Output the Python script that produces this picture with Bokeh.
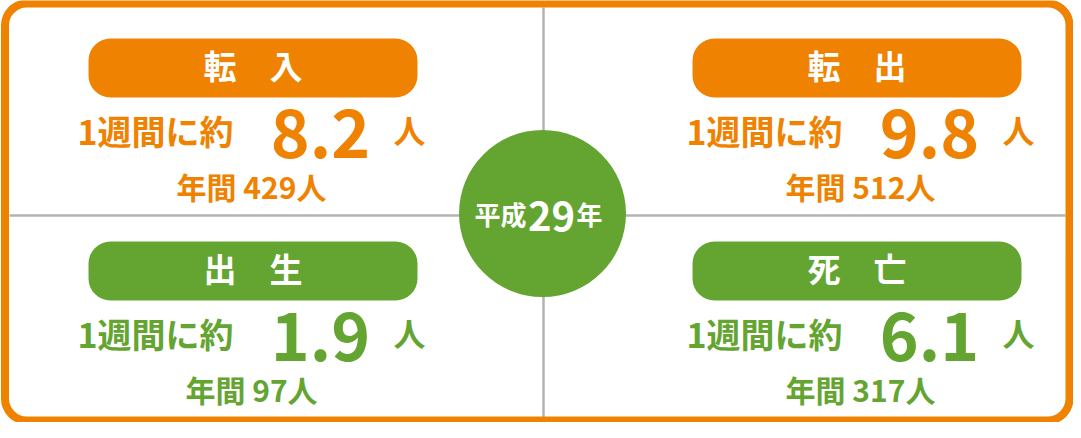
from bokeh.plotting import figure
from bokeh.models import ColumnDataSource, Range1d
from bokeh.core.properties import value
from bokeh.embed import file_html
from bokeh.resources import INLINE

# ---- data ----
labels = ["転　入", "転　出", "出　生", "死　亡"]
weekly = [8.2, 9.8, 1.9, 6.1]
yearly = [429, 512, 97, 317]
year_label = "平成"
year_num = "29"
year_suffix = "年"
weekly_prefix = "1週間に約"
unit = "人"
yearly_prefix = "年間"

# ---- styles ----
ORANGE = "#EF8200"
GREEN = "#64A532"
GRAY = "#B3B3B3"
FONT = value("Noto Sans CJK JP")
quad_colors = [ORANGE, ORANGE, GREEN, GREEN]

W, H = 1073, 422
p = figure(width=W, height=H, output_backend="svg", toolbar_location=None,
           x_range=Range1d(8, 8 + W), y_range=Range1d(-(8 + H), -8),
           x_axis_location=None, y_axis_location=None, min_border=0,
           background_fill_color="white", border_fill_color="white",
           outline_line_color=None)
p.xgrid.visible = False
p.ygrid.visible = False

def Y(v):
    return -v

pill_dx = [0, 604, 0, 604]
text_dx = [0, 609, 0, 609]
row_dy = [0, 0, 203, 203]

# dividers
p.segment(x0=[551, 17], y0=[Y(15), Y(223)], x1=[551, 1073], y1=[Y(426), Y(223)],
          line_color=GRAY, line_width=2.5)

# outer rounded frame
p.quad(left=[12.5], right=[1077], top=[Y(11)], bottom=[Y(428)],
       fill_color=None, line_color=ORANGE, line_width=8, border_radius=22)

# label pills
pill = ColumnDataSource(dict(
    l=[96 + dx for dx in pill_dx], r=[425 + dx for dx in pill_dx],
    t=[Y(46 + dy) for dy in row_dy], b=[Y(105 + dy) for dy in row_dy],
    c=quad_colors, label=labels,
    cx=[260.5 + dx for dx in pill_dx], cy=[Y(72 + dy) for dy in row_dy],
))
p.quad(left="l", right="r", top="t", bottom="b", fill_color="c", line_color=None,
       border_radius=22, source=pill)
p.text(x="cx", y="cy", text="label", text_color="white", text_font=FONT,
       text_font_style="bold", text_font_size="33px", text_align="center",
       text_baseline="middle", source=pill)

# weekly / yearly figures
wk = ColumnDataSource(dict(
    px=[241 + dx for dx in text_dx], py=[Y(138 + dy) for dy in row_dy],
    prefix=[weekly_prefix] * 4,
    nx=[328 + dx for dx in text_dx], ny=[Y(141 + dy) for dy in row_dy],
    num=["%.1f" % v for v in weekly],
    ux=[401 + dx for dx in text_dx], uy=[Y(136 + dy) for dy in row_dy],
    unit=[unit] * 4,
    yx=[259 + dx for dx in text_dx], yy=[Y(193 + dy) for dy in row_dy],
    yr=["%s %d%s" % (yearly_prefix, v, unit) for v in yearly],
    c=quad_colors,
))
p.text(x="px", y="py", text="prefix", text_color="c", text_font=FONT,
       text_font_style="bold", text_font_size="34px", text_align="right",
       text_baseline="alphabetic", source=wk)
p.text(x="nx", y="ny", text="num", text_color="c", text_font=FONT,
       text_font_style="bold", text_font_size="66px", text_align="center",
       text_baseline="alphabetic", source=wk)
p.text(x="ux", y="uy", text="unit", text_color="c", text_font=FONT,
       text_font_style="bold", text_font_size="32px", text_align="left",
       text_baseline="alphabetic", source=wk)
p.text(x="yx", y="yy", text="yr", text_color="c", text_font=FONT,
       text_font_style="bold", text_font_size="30px", text_align="center",
       text_baseline="alphabetic", source=wk)

# centre badge
p.circle(x=[550], y=[Y(221)], radius=83.5, fill_color=GREEN, line_color=None)
p.text(x=[534], y=[Y(221)], text=[year_label], text_color="white", text_font=FONT,
       text_font_style="bold", text_font_size="26px", text_align="right",
       text_baseline="alphabetic")
p.text(x=[559], y=[Y(223)], text=[year_num], text_color="white", text_font=FONT,
       text_font_style="bold", text_font_size="40px", text_align="center",
       text_baseline="alphabetic")
p.text(x=[584], y=[Y(221)], text=[year_suffix], text_color="white", text_font=FONT,
       text_font_style="bold", text_font_size="26px", text_align="left",
       text_baseline="alphabetic")

open("out.html", "w").write(file_html(p, INLINE))
